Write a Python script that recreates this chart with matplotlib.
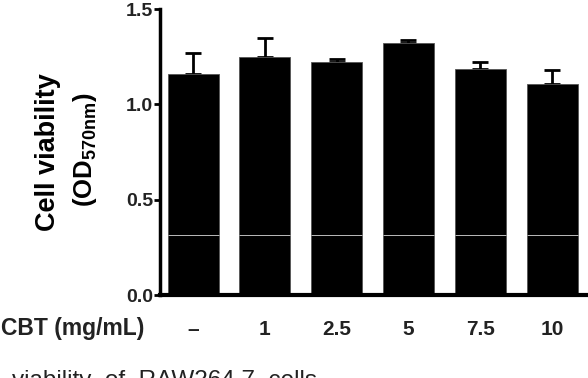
import matplotlib
matplotlib.use("Agg")
import matplotlib.pyplot as plt
import numpy as np

plt.rcParams["font.family"] = ["Liberation Sans", "DejaVu Sans"]
plt.rcParams["mathtext.fontset"] = "custom"
plt.rcParams["mathtext.rm"] = "Liberation Sans"
plt.rcParams["mathtext.bf"] = "Liberation Sans:bold"

# data
doses = ["\u2013", "1", "2.5", "5", "7.5", "10"]
viability = [1.16, 1.25, 1.22, 1.32, 1.185, 1.105]
sem = [0.11, 0.10, 0.02, 0.015, 0.035, 0.075]
y_ticks = [0.0, 0.5, 1.0, 1.5]

fig = plt.figure(figsize=(5.88, 3.78), dpi=100)
ax = fig.add_axes([160 / 588, 83 / 378, 428 / 588, 286 / 378])

x = np.arange(len(doses))
w = 0.71
ax.bar(x, viability, width=w, color="black", edgecolor="#555555", linewidth=0.6, zorder=2)
ax.errorbar(x, viability, yerr=[np.zeros(len(sem)), sem], fmt="none",
            ecolor="black", elinewidth=2, capsize=6, capthick=2, zorder=1)
# faint scan line crossing the bars
ax.hlines(np.full(len(x), 0.315), x - w / 2, x + w / 2, color="#bbbbbb", linewidth=0.7, zorder=3)

ax.set_xlim(-0.46, 5.5)
ax.set_ylim(0, 1.5)
ax.set_yticks(y_ticks)
ax.set_yticklabels([f"{v:.1f}" for v in y_ticks], fontsize=14, fontweight="bold", color="#222222")
ax.set_xticks(x)
ax.set_xticklabels(doses, fontsize=15, fontweight="bold", color="#222222")
ax.tick_params(axis="x", length=0, pad=18)
ax.tick_params(axis="y", length=4, width=2, pad=1)

for s in ["top", "right"]:
    ax.spines[s].set_visible(False)
ax.spines["left"].set_linewidth(2.5)
ax.spines["bottom"].set_linewidth(3)

fig.text(48 / 588, 1 - 152 / 378, "Cell viability", rotation=90, fontsize=19.5,
         fontweight="bold", ha="center", va="center")
fig.text(85 / 588, 1 - 150 / 378, r"(OD$_{\mathbf{570nm}}$)", rotation=90, fontsize=18.5,
         fontweight="bold", ha="center", va="center")
fig.text(1 / 588, 1 - 329 / 378, "CBT (mg/mL)", fontsize=16.5, fontweight="bold",
         ha="left", va="center", color="#222222")
fig.text(12 / 588, 1 - 370 / 378, "viability  of  RAW264.7  cells", fontsize=17.5,
         ha="left", va="top", color="#222222")

fig.savefig("out.png", dpi=100)
